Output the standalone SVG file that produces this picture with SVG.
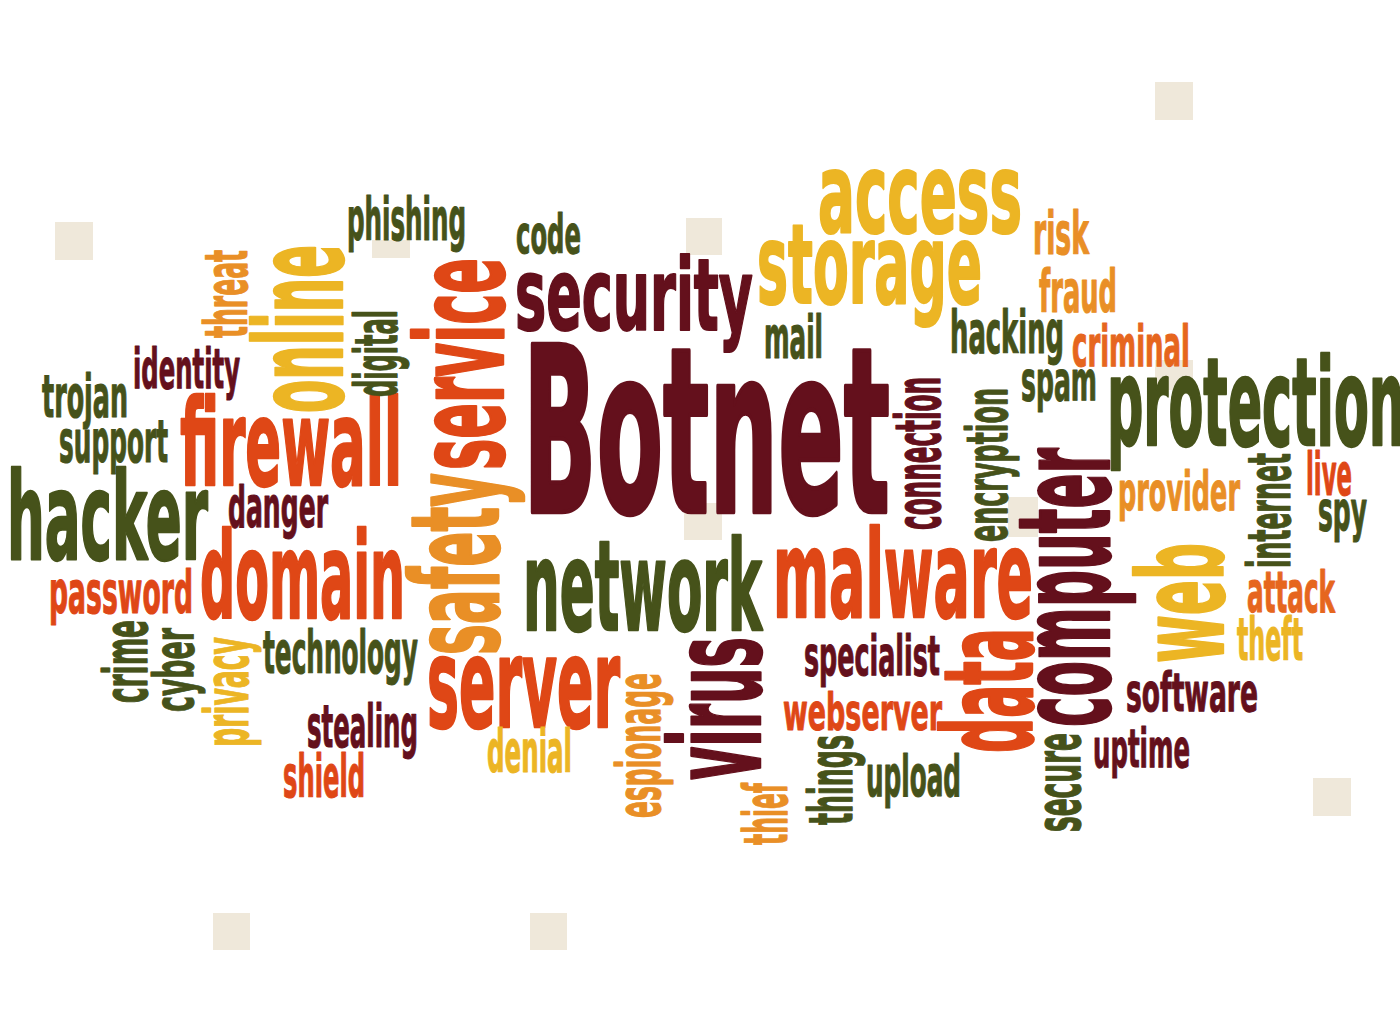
<svg xmlns="http://www.w3.org/2000/svg" width="1400" height="1010" viewBox="0 0 1400 1010">
<style>
text{font-family:"Liberation Sans Narrow","DejaVu Sans Condensed","Liberation Sans",sans-serif;font-weight:bold;stroke-width:0.02em;stroke-linejoin:round}
.m{fill:#64101c;stroke:#64101c}
.g{fill:#46521a;stroke:#46521a}
.r{fill:#df4716;stroke:#df4716}
.o{fill:#e98f26;stroke:#e98f26}
.o2{fill:#e6661e;stroke:#e6661e}
.y{fill:#ecb524;stroke:#ecb524}
.sq{fill:#efe8da}
</style>
<rect width="1400" height="1010" fill="#ffffff"/>
<g id="watermark">
<rect class="sq" x="55" y="222" width="38" height="38"/>
<rect class="sq" x="1155" y="82" width="38" height="38"/>
<rect class="sq" x="686" y="218" width="36" height="37"/>
<rect class="sq" x="1313" y="778" width="38" height="38"/>
<rect class="sq" x="213" y="913" width="37" height="37"/>
<rect class="sq" x="530" y="913" width="37" height="37"/>
<rect class="sq" x="1008" y="497" width="30" height="40"/>
<rect class="sq" x="1155" y="360" width="38" height="30"/>
<rect class="sq" x="684" y="503" width="38" height="37"/>
<rect class="sq" x="372" y="240" width="38" height="18"/>
</g>
<g id="words">
<text class="y" x="818" y="232" font-size="110" textLength="204" lengthAdjust="spacingAndGlyphs">access</text>
<text class="y" x="757" y="303" font-size="110" textLength="225" lengthAdjust="spacingAndGlyphs">storage</text>
<text class="o" x="1033" y="254" font-size="58" textLength="56" lengthAdjust="spacingAndGlyphs">risk</text>
<text class="o" x="1039" y="312" font-size="58" textLength="78" lengthAdjust="spacingAndGlyphs">fraud</text>
<text class="g" x="950" y="353" font-size="58" textLength="114" lengthAdjust="spacingAndGlyphs">hacking</text>
<text class="o2" x="1072" y="366" font-size="57" textLength="118" lengthAdjust="spacingAndGlyphs">criminal</text>
<text class="g" x="1021" y="400" font-size="55" textLength="76" lengthAdjust="spacingAndGlyphs">spam</text>
<text class="g" x="1107" y="445" font-size="121" textLength="298" lengthAdjust="spacingAndGlyphs">protection</text>
<text class="g" x="764" y="358" font-size="58" textLength="59" lengthAdjust="spacingAndGlyphs">mail</text>
<text class="g" x="516" y="253" font-size="54" textLength="65" lengthAdjust="spacingAndGlyphs">code</text>
<text class="m" x="515" y="330" font-size="100" textLength="238" lengthAdjust="spacingAndGlyphs">security</text>
<text class="g" x="347" y="240" font-size="58" textLength="119" lengthAdjust="spacingAndGlyphs">phishing</text>
<text class="m" x="523" y="512" font-size="230" textLength="367" lengthAdjust="spacingAndGlyphs">Botnet</text>
<text class="m" x="133" y="388" font-size="56" textLength="107" lengthAdjust="spacingAndGlyphs">identity</text>
<text class="g" x="42" y="417" font-size="58" textLength="86" lengthAdjust="spacingAndGlyphs">trojan</text>
<text class="g" x="59" y="462" font-size="58" textLength="109" lengthAdjust="spacingAndGlyphs">support</text>
<text class="r" x="180" y="485" font-size="119" textLength="222" lengthAdjust="spacingAndGlyphs">firewall</text>
<text class="g" x="7" y="559" font-size="122" textLength="201" lengthAdjust="spacingAndGlyphs">hacker</text>
<text class="m" x="228" y="527" font-size="57" textLength="100" lengthAdjust="spacingAndGlyphs">danger</text>
<text class="r" x="200" y="618" font-size="120" textLength="205" lengthAdjust="spacingAndGlyphs">domain</text>
<text class="r" x="49" y="613" font-size="59" textLength="144" lengthAdjust="spacingAndGlyphs">password</text>
<text class="g" x="263" y="673" font-size="59" textLength="155" lengthAdjust="spacingAndGlyphs">technology</text>
<text class="m" x="307" y="747" font-size="58" textLength="111" lengthAdjust="spacingAndGlyphs">stealing</text>
<text class="r" x="283" y="797" font-size="58" textLength="82" lengthAdjust="spacingAndGlyphs">shield</text>
<text class="r" x="427" y="727" font-size="124" textLength="193" lengthAdjust="spacingAndGlyphs">server</text>
<text class="y" x="487" y="772" font-size="59" textLength="85" lengthAdjust="spacingAndGlyphs">denial</text>
<text class="g" x="523" y="630" font-size="124" textLength="239" lengthAdjust="spacingAndGlyphs">network</text>
<text class="r" x="773" y="617" font-size="122" textLength="260" lengthAdjust="spacingAndGlyphs">malware</text>
<text class="m" x="804" y="675" font-size="56" textLength="136" lengthAdjust="spacingAndGlyphs">specialist</text>
<text class="r" x="783" y="730" font-size="52" textLength="159" lengthAdjust="spacingAndGlyphs">webserver</text>
<text class="g" x="866" y="796" font-size="57" textLength="95" lengthAdjust="spacingAndGlyphs">upload</text>
<text class="o" x="1118" y="510" font-size="53" textLength="122" lengthAdjust="spacingAndGlyphs">provider</text>
<text class="r" x="1306" y="495" font-size="58" textLength="46" lengthAdjust="spacingAndGlyphs">live</text>
<text class="g" x="1318" y="530" font-size="55" textLength="49" lengthAdjust="spacingAndGlyphs">spy</text>
<text class="o2" x="1247" y="612" font-size="57" textLength="88" lengthAdjust="spacingAndGlyphs">attack</text>
<text class="y" x="1237" y="660" font-size="58" textLength="66" lengthAdjust="spacingAndGlyphs">theft</text>
<text class="m" x="1126" y="711" font-size="54" textLength="132" lengthAdjust="spacingAndGlyphs">software</text>
<text class="m" x="1093" y="767" font-size="54" textLength="97" lengthAdjust="spacingAndGlyphs">uptime</text>
<text class="o" transform="translate(247,338) rotate(-90)" font-size="58" textLength="88" lengthAdjust="spacingAndGlyphs">threat</text>
<text class="y" transform="translate(342,413) rotate(-90)" font-size="122" textLength="168" lengthAdjust="spacingAndGlyphs">online</text>
<text class="g" transform="translate(397,397) rotate(-90)" font-size="58" textLength="87" lengthAdjust="spacingAndGlyphs">digital</text>
<text class="r" transform="translate(503,470) rotate(-90)" font-size="121" textLength="212" lengthAdjust="spacingAndGlyphs">service</text>
<text class="o" transform="translate(498,655) rotate(-90)" font-size="121" textLength="182" lengthAdjust="spacingAndGlyphs">safety</text>
<text class="m" transform="translate(940,530) rotate(-90)" font-size="62" textLength="153" lengthAdjust="spacingAndGlyphs">connection</text>
<text class="g" transform="translate(1007,542) rotate(-90)" font-size="57" textLength="154" lengthAdjust="spacingAndGlyphs">encryption</text>
<text class="m" transform="translate(1109,727) rotate(-90)" font-size="127" textLength="279" lengthAdjust="spacingAndGlyphs">computer</text>
<text class="y" transform="translate(1223,663) rotate(-90)" font-size="117" textLength="120" lengthAdjust="spacingAndGlyphs">web</text>
<text class="g" transform="translate(1290,568) rotate(-90)" font-size="58" textLength="115" lengthAdjust="spacingAndGlyphs">internet</text>
<text class="r" transform="translate(1032,753) rotate(-90)" font-size="123" textLength="125" lengthAdjust="spacingAndGlyphs">data</text>
<text class="m" transform="translate(760,780) rotate(-90)" font-size="125" textLength="143" lengthAdjust="spacingAndGlyphs">virus</text>
<text class="o" transform="translate(660,818) rotate(-90)" font-size="60" textLength="145" lengthAdjust="spacingAndGlyphs">espionage</text>
<text class="o" transform="translate(787,845) rotate(-90)" font-size="60" textLength="62" lengthAdjust="spacingAndGlyphs">thief</text>
<text class="g" transform="translate(852,825) rotate(-90)" font-size="60" textLength="90" lengthAdjust="spacingAndGlyphs">things</text>
<text class="g" transform="translate(1080,832) rotate(-90)" font-size="62" textLength="99" lengthAdjust="spacingAndGlyphs">secure</text>
<text class="g" transform="translate(147,703) rotate(-90)" font-size="60" textLength="83" lengthAdjust="spacingAndGlyphs">crime</text>
<text class="g" transform="translate(193,712) rotate(-90)" font-size="56" textLength="84" lengthAdjust="spacingAndGlyphs">cyber</text>
<text class="y" transform="translate(248,747) rotate(-90)" font-size="60" textLength="110" lengthAdjust="spacingAndGlyphs">privacy</text>
</g>
</svg>
